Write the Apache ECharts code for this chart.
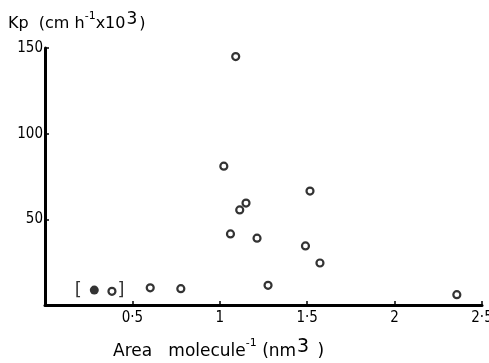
<!DOCTYPE html>
<html>
<head>
<meta charset="utf-8">
<script src="https://cdn.jsdelivr.net/npm/echarts@6/dist/echarts.min.js"></script>
<style>
  html, body { margin: 0; padding: 0; background: #fff; }
  #chart { width: 489px; height: 363px; }
</style>
</head>
<body>
<div id="chart"></div>
<script>
// open circles: area per molecule (nm3) vs Kp (cm h-1 x 10^3)
var openPts = [
    [0.383, 8], [0.602, 10], [0.777, 9.5],
    [1.023, 81], [1.061, 41.5], [1.091, 145], [1.114, 55.5], [1.150, 59.5],
    [1.213, 39], [1.276, 11.5], [1.490, 34.5], [1.516, 66.5], [1.573, 24.5],
    [2.356, 6]
];
// filled circle
var filledPts = [[0.282, 8.7]];
// bracket annotations round the first two points
var bracketPts = [[0.19, 8.5, '['], [0.435, 8.5, ']']];
var xTicks = [0.5, 1, 1.5, 2, 2.5];
var yTicks = [50, 100, 150];

var font = 'DejaVu Sans, sans-serif';
var narrow = 'DejaVu Sans Condensed, DejaVu Sans, sans-serif';

var myChart = echarts.init(document.getElementById('chart'));
var option = {
    backgroundColor: '#ffffff',
    animation: false,
    grid: { left: 45, right: 7, top: 48, bottom: 58, outerBoundsMode: 'none' },
    title: [{
        text: 'Kp  (cm h{s|-1}x10{b|3})',
        left: 3, top: 6,
        textStyle: {
            fontFamily: font, fontSize: 16, fontWeight: 'normal', color: '#000',
            rich: {
                s: { fontFamily: font, fontSize: 11, verticalAlign: 'top', padding: [0, 0, 6, 0], color: '#000' },
                b: { fontFamily: font, fontSize: 17, verticalAlign: 'top', padding: [0, 2, 8, 1], color: '#000' }
            }
        }
    }, {
        text: 'Area   molecule{s|-1} (nm{b|3} )',
        left: 108, top: 333,
        textStyle: {
            fontFamily: font, fontSize: 17, fontWeight: 'normal', color: '#000',
            rich: {
                s: { fontFamily: font, fontSize: 11, verticalAlign: 'top', padding: [0, 0, 6, 0], color: '#000' },
                b: { fontFamily: font, fontSize: 19, verticalAlign: 'top', padding: [0, 3, 8, 1], color: '#000' }
            }
        }
    }],
    xAxis: {
        type: 'value',
        min: 0, max: 2.5, interval: 0.5,
        axisLine: { lineStyle: { color: '#000', width: 3 } },
        axisTick: {
            inside: true, length: 4, lineStyle: { color: '#000', width: 1.5 },
            customValues: xTicks
        },
        axisLabel: {
            color: '#000', fontFamily: narrow, fontSize: 15, margin: 6,
            customValues: xTicks,
            formatter: function (v) { return String(v).replace('.', '·'); }
        },
        splitLine: { show: false }
    },
    yAxis: {
        type: 'value',
        min: 0, max: 150, interval: 50,
        axisLine: { show: true, lineStyle: { color: '#000', width: 3 } },
        axisTick: {
            show: true, inside: true, length: 4, lineStyle: { color: '#000', width: 1.5 },
            customValues: yTicks
        },
        axisLabel: {
            color: '#000', fontFamily: narrow, fontSize: 15, margin: 2,
            customValues: yTicks
        },
        splitLine: { show: false }
    },
    series: [{
        type: 'scatter',
        data: openPts,
        symbol: 'circle',
        symbolSize: 7,
        itemStyle: { color: '#fff', borderColor: '#000', borderWidth: 2.2 }
    }, {
        type: 'scatter',
        data: filledPts,
        symbol: 'circle',
        symbolSize: 9,
        itemStyle: { color: '#000' }
    }, {
        type: 'scatter',
        data: bracketPts,
        symbolSize: 0,
        silent: true,
        label: {
            show: true, position: 'inside',
            formatter: function (p) { return p.data[2]; },
            fontFamily: font, fontSize: 18, color: '#000'
        }
    }]
};
myChart.setOption(option, true);
</script>
</body>
</html>
